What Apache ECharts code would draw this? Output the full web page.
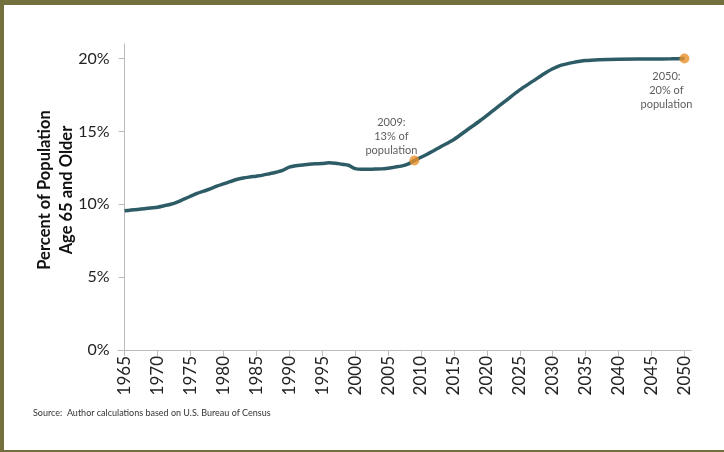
<!DOCTYPE html>
<html>
<head>
<meta charset="utf-8">
<script src="https://cdn.jsdelivr.net/npm/echarts@6/dist/echarts.min.js"></script>
<style>
  html, body { margin: 0; padding: 0; background: #fff; overflow: hidden; width: 724px; height: 452px; }
  #chart { position: absolute; left: 0; top: 0; width: 724px; height: 452px; }
  .edge { position: absolute; background: #73703e; z-index: 2; }
  .blank { position: absolute; background: #fff; z-index: 1; }
</style>
</head>
<body>
<div id="chart"></div>
<div class="blank" style="left:716px;top:0;width:8px;height:452px"></div>
<div class="edge" style="left:0;top:0;width:724px;height:5px"></div>
<div class="edge" style="left:0;top:0;width:4px;height:452px"></div>
<div class="edge" style="left:0;top:450px;width:724px;height:2px"></div>
<script>
// Share of the U.S. population aged 65 and older (historical + projected)
const years = [
  1965, 1966, 1967, 1968, 1969, 1970, 1971, 1972, 1973, 1974,
  1975, 1976, 1977, 1978, 1979, 1980, 1981, 1982, 1983, 1984,
  1985, 1986, 1987, 1988, 1989, 1990, 1991, 1992, 1993, 1994,
  1995, 1996, 1997, 1998, 1999, 2000, 2001, 2002, 2003, 2004,
  2005, 2006, 2007, 2008, 2009, 2011, 2013, 2015, 2017, 2019,
  2021, 2023, 2025, 2027, 2029, 2030, 2031, 2032, 2033, 2035,
  2037, 2040, 2043, 2045, 2048, 2050
];
const pctOlder = [
  9.55, 9.6, 9.65, 9.7, 9.75, 9.8, 9.9, 10.0, 10.15, 10.35,
  10.55, 10.75, 10.9, 11.05, 11.25, 11.4, 11.55, 11.7, 11.8, 11.87,
  11.93, 12.0, 12.1, 12.2, 12.32, 12.55, 12.65, 12.7, 12.75, 12.78,
  12.8, 12.85, 12.82, 12.75, 12.68, 12.45, 12.4, 12.4, 12.42, 12.43,
  12.48, 12.55, 12.62, 12.75, 13.0, 13.45, 13.95, 14.45, 15.1, 15.75,
  16.45, 17.15, 17.85, 18.45, 19.05, 19.3, 19.5, 19.62, 19.72, 19.86,
  19.92, 19.96, 19.97, 19.97, 19.98, 20.0
];

// Highlighted points with their notes
const noteYears = [2009, 2050];
const notePct = [13, 20];
const noteText = ['2009:\n13% of\npopulation', '2050:\n20% of\npopulation'];

const xTicks = [1965, 1970, 1975, 1980, 1985, 1990, 1995, 2000, 2005, 2010,
                2015, 2020, 2025, 2030, 2035, 2040, 2045, 2050];
const yTicks = [0, 5, 10, 15, 20];

const FONT = 'Lato, "Open Sans", sans-serif';
const chart = echarts.init(document.getElementById('chart'), null, { renderer: 'canvas' });

chart.setOption({
  animation: false,
  backgroundColor: '#fff',
  title: {
    text: 'Source:  Author calculations based on U.S. Bureau of Census',
    left: 28, top: 404,
    textStyle: { fontFamily: FONT, fontSize: 9, fontWeight: 'normal', color: '#333' }
  },
  grid: { left: 118, right: 33, top: 44, bottom: 102, containLabel: false },
  xAxis: {
    type: 'value',
    min: 1964, max: 2051,
    splitLine: { show: false },
    axisLine: { show: true, lineStyle: { color: '#bbb', width: 1 } },
    axisTick: { show: true, length: 6, customValues: xTicks, lineStyle: { color: '#bbb' } },
    axisLabel: {
      customValues: xTicks,
      rotate: 90, margin: 6,
      fontFamily: FONT, fontSize: 17, color: '#222',
      formatter: v => String(v)
    }
  },
  yAxis: {
    type: 'value',
    min: 0, max: 21,
    offset: -6.6,
    splitLine: { show: false },
    axisLine: { show: true, lineStyle: { color: '#bbb', width: 1 } },
    axisTick: { show: true, length: 6, customValues: yTicks, lineStyle: { color: '#bbb' } },
    axisLabel: {
      customValues: yTicks,
      margin: 15,
      fontFamily: FONT, fontSize: 16, color: '#222',
      formatter: v => v + '%'
    },
    name: 'Percent of Population\nAge 65 and Older',
    nameLocation: 'middle',
    nameGap: 47,
    nameMoveOverlap: false,
    nameTextStyle: {
      fontFamily: FONT, fontSize: 16.5, fontWeight: 'bold', color: '#111',
      lineHeight: 22, padding: [0, 0, 0, 14]
    }
  },
  series: [
    {
      type: 'line',
      data: years.map((y, i) => [y, pctOlder[i]]),
      smooth: 0.3,
      showSymbol: false,
      lineStyle: { color: '#2d5c66', width: 3.5 },
      z: 2
    },
    {
      type: 'scatter',
      data: noteYears.map((y, i) => ({
        value: [y, notePct[i]],
        label: i === 0
          ? { position: 'top', offset: [-23, 6], distance: 4 }
          : { position: 'bottom', offset: [-18, 2], distance: 4 }
      })),
      symbolSize: 10,
      itemStyle: { color: '#e8912c' },
      label: {
        show: true,
        formatter: p => noteText[p.dataIndex],
        fontFamily: FONT, fontSize: 11, color: '#333',
        lineHeight: 14, align: 'center'
      },
      z: 3
    }
  ]
});
</script>
</body>
</html>
